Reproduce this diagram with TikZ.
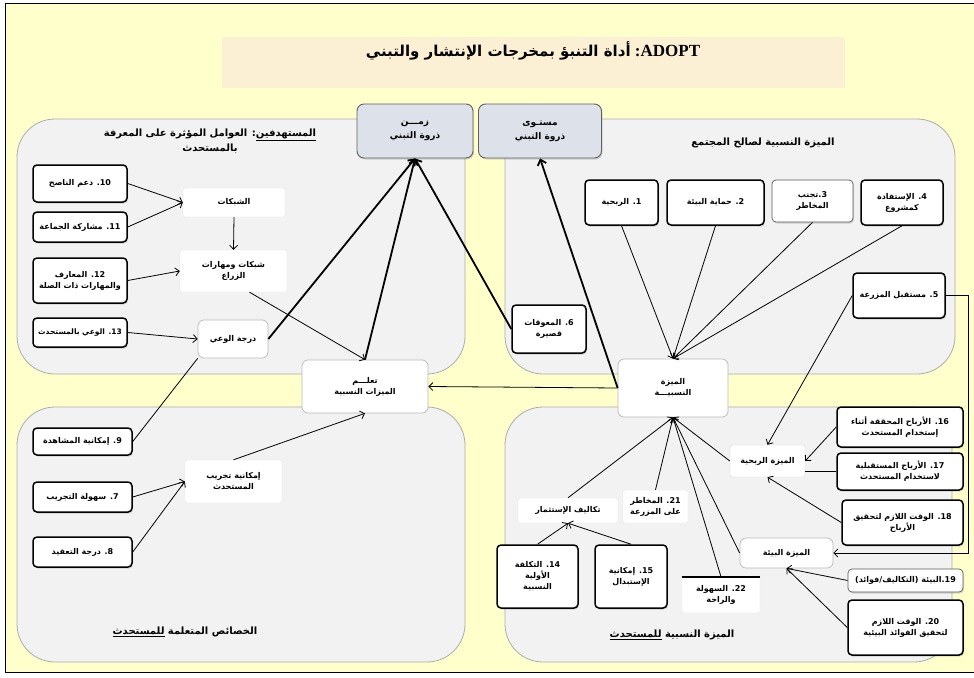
\documentclass[tikz,border=0pt]{standalone}
\usepackage{fontspec}
\setmainfont{Liberation Serif}
\newfontfamily\arabicfont[Script=Arabic]{DejaVu Sans}
\TeXXeTstate=1
\usetikzlibrary{arrows.meta,shadows}
\definecolor{bgyellow}{HTML}{FFFFCC}
\definecolor{titlefill}{HTML}{FCF0D4}
\definecolor{panelgray}{HTML}{F2F2F2}
\definecolor{peakfill}{HTML}{DCE1EA}
\newcommand{\rl}[1]{\beginR #1\endR}
\tikzset{
  panel/.style={draw=gray!65, fill=panelgray, rounded corners=38pt, line width=.8pt},
  factor/.style={draw=black, line width=1.5pt, fill=white, rounded corners=4pt, align=center,
    inner sep=2pt, font=\arabicfont\bfseries\fontsize{8}{11}\selectfont,
    drop shadow={shadow xshift=1pt, shadow yshift=-1.5pt, opacity=.3}},
  thinfactor/.style={factor, draw=gray!70!black, line width=.7pt},
  inner/.style={fill=white, draw=gray!20, rounded corners=2pt, align=center, inner sep=2pt,
    font=\arabicfont\bfseries\fontsize{8}{11}\selectfont},
  outcome/.style={inner, draw=gray!55, rounded corners=6pt, line width=.7pt},
  peak/.style={fill=peakfill, draw=gray!75!black, rounded corners=7pt, line width=.9pt, align=center,
    font=\arabicfont\bfseries\fontsize{9}{14}\selectfont,
    drop shadow={shadow xshift=1pt, shadow yshift=-1.5pt, opacity=.3}},
  head/.style={align=center, font=\arabicfont\bfseries\fontsize{10}{15}\selectfont},
  conn/.style={->, line width=.8pt},
  boldconn/.style={-{Straight Barb[length=5pt,width=9pt]}, line width=1.8pt}
}
\begin{document}
\begin{tikzpicture}[x=1pt,y=-1pt,>={Straight Barb[length=4pt,width=8pt]}]
        \useasboundingbox (0,0) rectangle (974,677);
        % draw background and frame
        \fill[bgyellow] (5,3) rectangle (974,672);
        \draw[line width=.8pt] (974,3) -- (5,3) -- (5,672) -- (974,672);
        \fill[titlefill] (222,37) rectangle (845,88);
        \node[font=\bfseries\fontsize{17}{20}\selectfont] (title) at (533,51)
          {\beginR\beginL ADOPT\endL: {\arabicfont\fontsize{15}{18}\selectfont أداة التنبؤ بمخرجات الإنتشار والتبني}\endR};
        % draw panels
        \draw[panel] (17,119) rectangle (465,374);
        \draw[panel] (505,119) rectangle (955,374);
        \draw[panel] (17,407) rectangle (465,662);
        \draw[panel] (505,407) rectangle (952,662);
        % draw headings
        \node[head] (tlhead) at (210,141) {\rl{\underline{المستهدفين}: العوامل المؤثرة على المعرفة}\\\rl{بالمستحدث}};
        \node[head] (trhead) at (763,143) {\rl{الميزة النسبية لصالح المجتمع}};
        \node[head] (blhead) at (185,632) {\rl{الخصائص المتعلمة \underline{للمستحدث}}};
        \node[head] (brhead) at (672,635) {\rl{الميزة النسبية \underline{للمستحدث}}};
        % draw peak nodes
        \node[peak, minimum width=116pt, minimum height=54pt] (tpeak) at (415,131) {\rl{زمـــن}\\\rl{ذروة التبني}};
        \node[peak, minimum width=123pt, minimum height=54pt] (lpeak) at (540,131) {\rl{مستـوى}\\\rl{ذروة التبني}};
        % draw nodes of top left panel
        \node[factor, minimum width=94pt, minimum height=37pt] (f10) at (80,183.5) {\rl{10. دعم الناصح}};
        \node[factor, minimum width=94pt, minimum height=30pt] (f11) at (80,227) {\rl{11. مشاركة الجماعة}};
        \node[factor, minimum width=94pt, minimum height=45pt] (f12) at (80,280.5) {\rl{12. المعارف}\\\rl{والمهارات ذات الصلة}};
        \node[factor, minimum width=94pt, minimum height=29pt, font=\arabicfont\bfseries\fontsize{7.5}{10}\selectfont] (f13) at (80,332.5) {\rl{13. الوعي بالمستحدث}};
        \node[inner, minimum width=102pt, minimum height=29pt] (net) at (234,202.5) {\rl{الشبكات}};
        \node[inner, minimum width=107pt, minimum height=42pt] (skills) at (233.5,271) {\rl{شبكات ومهارات}\\\rl{الزراع}};
        \node[outcome, minimum width=70pt, minimum height=38pt] (aware) at (233,339) {\rl{درجة الوعي}};
        % draw central nodes
        \node[outcome, minimum width=126pt, minimum height=53pt] (learn) at (365,386.5) {\rl{تعلـــم}\\\rl{الميزات النسبية}};
        \node[outcome, minimum width=110pt, minimum height=58pt] (adv) at (673,388) {\rl{الميزة}\\\rl{النسبيـــة}};
        % draw nodes of top right panel
        \node[factor, minimum width=73pt, minimum height=45pt] (f1) at (621.5,202.5) {\rl{1. الربحية}};
        \node[factor, minimum width=97pt, minimum height=45pt] (f2) at (715.5,202.5) {\rl{2. حماية البيئة}};
        \node[thinfactor, minimum width=81pt, minimum height=42pt] (f3) at (812.5,201) {\rl{3.تجنب}\\\rl{المخاطر}};
        \node[factor, minimum width=82pt, minimum height=45pt] (f4) at (902,202.5) {\rl{4. الإستفادة}\\\rl{كمشروع}};
        \node[factor, minimum width=92pt, minimum height=45pt] (f5) at (899,295.5) {\rl{5. مستقبل المزرعة}};
        \node[factor, minimum width=74pt, minimum height=48pt] (f6) at (549,329) {\rl{6. المعوقات}\\\rl{قصيرة}};
        % draw nodes of bottom left panel
        \node[factor, minimum width=99pt, minimum height=27pt] (f9) at (82.5,441.5) {\rl{9. إمكانية المشاهدة}};
        \node[factor, minimum width=99pt, minimum height=30pt] (f7) at (82.5,497) {\rl{7. سهولة التجريب}};
        \node[factor, minimum width=99pt, minimum height=30pt] (f8) at (82.5,552) {\rl{8. درجة التعقيد}};
        \node[inner, minimum width=97pt, minimum height=43pt] (trial) at (233.5,481.5) {\rl{إمكانية تجريب}\\\rl{المستحدث}};
        % draw nodes of bottom right panel
        \node[inner, minimum width=100pt, minimum height=25pt] (cost) at (568,510.5) {\rl{تكاليف الإستثمار}};
        \node[inner, minimum width=65pt, minimum height=33pt] (f21) at (655.5,506.5) {\rl{21. المخاطر}\\\rl{على المزرعة}};
        \node[factor, minimum width=81pt, minimum height=63pt] (f14) at (537.5,576.5) {\rl{14. التكلفة}\\\rl{الأولية}\\\rl{النسبية}};
        \node[factor, minimum width=72pt, minimum height=63pt] (f15) at (631,576.5) {\rl{15. إمكانية}\\\rl{الإستبدال}};
        \node[inner, minimum width=78pt, minimum height=36pt] (f22) at (721,595) {\rl{22. السهولة}\\\rl{والراحة}};
        \draw[line width=1.5pt] (f22.north west) -- (f22.north east);
        \node[inner, draw=gray!35, minimum width=75pt, minimum height=32pt] (profit) at (767.5,461) {\rl{الميزة الربحية}};
        \node[outcome, minimum width=93pt, minimum height=30pt] (envadv) at (786.5,553) {\rl{الميزة البيئة}};
        \node[factor, minimum width=126pt, minimum height=40pt] (f16) at (900,427) {\rl{16. الأرباح المحققة أثناء}\\\rl{إستخدام المستحدث}};
        \node[factor, minimum width=126pt, minimum height=37pt] (f17) at (900,471.5) {\rl{17. الأرباح المستقبلية}\\\rl{لاستخدام المستحدث}};
        \node[factor, minimum width=121pt, minimum height=45pt] (f18) at (902.5,522.5) {\rl{18. الوقت اللازم لتحقيق}\\\rl{الأرباح}};
        \node[thinfactor, minimum width=115pt, minimum height=23pt] (f19) at (905.5,580.5) {\rl{19.البيئة (التكاليف/فوائد)}};
        \node[factor, minimum width=115pt, minimum height=55pt] (f20) at (905.5,627.5) {\rl{20. الوقت اللازم}\\\rl{لتحقيق الفوائد البيئية}};
        % draw arrows of top left panel
        \draw[conn] (f10.east) -- (net.west);
        \draw[conn] (f11.east) -- (net.west);
        \draw[conn] (net.south) -- (skills.north);
        \draw[conn] (f12.east) -- (skills.west);
        \draw[conn] (f13.east) -- (aware.west);
        \draw[line width=.8pt] (f9.east) -- (aware.south west);
        \draw[conn] ([xshift=16pt]skills.south) -- (learn.north);
        % draw arrows to the peak nodes
        \foreach \src/\anc in {aware/east,learn/north,f6/west}
        \draw[boldconn] (\src.\anc) -- (tpeak.south);
        \draw[boldconn] (adv.west) -- (lpeak.south);
        \draw[conn] (adv.west) -- (learn.east);
        % draw arrows of top right panel
        \foreach \src in {f1,f2,f3,f4}
        \draw[conn] (\src.south) -- (adv.north);
        \draw[conn] (f5.west) -- (profit.north);
        \draw[conn] (f5.east) -- ++(23,0) |- (envadv.east);
        % draw arrows of bottom left panel
        \draw[conn] (f7.east) -- (trial.west);
        \draw[conn] (f8.east) -- (trial.west);
        \draw[conn] (trial.north) -- (learn.south);
        % draw arrows of bottom right panel
        \foreach \src/\anc in {cost/north,f21/north,f22/north,envadv/west,profit/west}
        \draw[conn] (\src.\anc) -- (adv.south);
        \draw[conn] (f14.north) -- (cost.south);
        \draw[conn] (f15.north) -- (cost.south);
        \draw[conn] (f16.west) -- (profit.east);
        \draw[line width=.8pt] (f17.west) -- (profit.east |- f17.west);
        \draw[conn] (f18.west) -- (profit.south);
        \draw[conn] (f19.west) -- (envadv.south);
        \draw[conn] (f20.west) -- (envadv.south);
\end{tikzpicture}
\end{document}
